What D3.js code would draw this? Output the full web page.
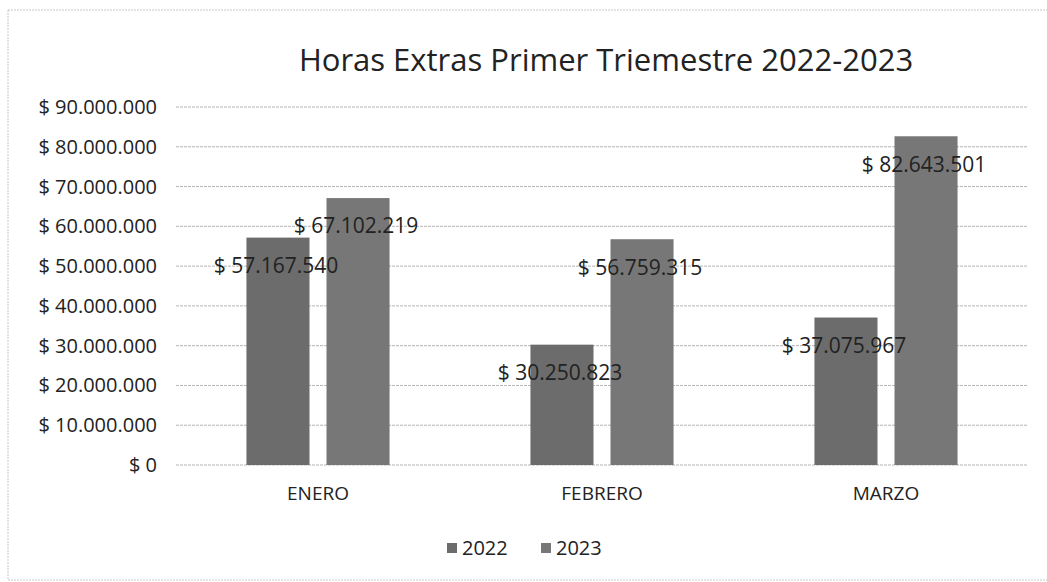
<!DOCTYPE html>
<html>
<head>
<meta charset="utf-8">
<script src="https://cdn.jsdelivr.net/npm/d3@7"></script>
<style>
  body { margin: 0; background: #fff; }
  text { font-family: "Open Sans", "Noto Sans", sans-serif; fill: #222; }
</style>
</head>
<body>
<div id="chart"></div>
<script>
// data
var months = ["ENERO", "FEBRERO", "MARZO"];
var years = ["2022", "2023"];
var values2022 = [57167540, 30250823, 37075967];
var values2023 = [67102219, 56759315, 82643501];
var yTicks = [0, 10000000, 20000000, 30000000, 40000000, 50000000, 60000000, 70000000, 80000000, 90000000];

var width = 1047, height = 582;
var margin = {top: 107, right: 19, bottom: 120, left: 176};

var svg = d3.select("#chart").append("svg")
  .attr("width", width)
  .attr("height", height);

// faint scan border
svg.append("rect")
  .attr("x", 8).attr("y", 10)
  .attr("width", width + 10).attr("height", 570)
  .attr("fill", "none")
  .attr("stroke", "#c8c8c8")
  .attr("stroke-dasharray", "2,1");

var x = d3.scaleBand().domain(months).range([margin.left, width - margin.right]);
var x1 = d3.scaleBand().domain(years).range([0, x.bandwidth()]).paddingInner(0.2125).paddingOuter(0.88);
var y = d3.scaleLinear().domain([0, 90000000]).range([height - margin.bottom + 3, margin.top]);

function money(v) {
  return "$ " + d3.format(",")(v).replace(/,/g, ".");
}

// gridlines
svg.append("g").selectAll("line")
  .data(yTicks)
  .enter().append("line")
  .attr("x1", margin.left).attr("x2", width - margin.right)
  .attr("y1", function(d) { return y(d); })
  .attr("y2", function(d) { return y(d); })
  .attr("stroke", "#b5b5b5")
  .attr("stroke-dasharray", "3,1");

// y axis labels
svg.append("g").selectAll("text")
  .data(yTicks)
  .enter().append("text")
  .attr("x", 157)
  .attr("y", function(d) { return y(d); })
  .attr("dy", "0.35em")
  .attr("text-anchor", "end")
  .style("font-size", "20px")
  .text(money);

var rows = months.map(function(m, i) {
  return {month: m, vals: [{year: "2022", v: values2022[i]}, {year: "2023", v: values2023[i]}]};
});

var colors = {"2022": "#6c6c6c", "2023": "#777777"};

var groups = svg.append("g").selectAll("g")
  .data(rows)
  .enter().append("g")
  .attr("transform", function(d) { return "translate(" + x(d.month) + ",0)"; });

groups.selectAll("rect")
  .data(function(d) { return d.vals; })
  .enter().append("rect")
  .attr("x", function(d) { return x1(d.year); })
  .attr("width", x1.bandwidth())
  .attr("y", function(d) { return y(d.v); })
  .attr("height", function(d) { return y(0) - y(d.v); })
  .attr("fill", function(d) { return colors[d.year]; });

// value labels, sit a bit under the bar top
groups.selectAll("text.val")
  .data(function(d) { return d.vals; })
  .enter().append("text")
  .attr("class", "val")
  .attr("x", function(d) { return x1(d.year) + x1.bandwidth() / 2 - 2; })
  .attr("y", function(d) { return y(d.v) + 28; })
  .attr("dy", "0.35em")
  .attr("text-anchor", "middle")
  .style("font-size", "21px")
  .text(function(d) { return money(d.v); });

// month labels
svg.append("g").selectAll("text")
  .data(months)
  .enter().append("text")
  .attr("x", function(d) { return x(d) + x.bandwidth() / 2; })
  .attr("y", 493)
  .attr("dy", "0.35em")
  .attr("text-anchor", "middle")
  .style("font-size", "19px")
  .text(function(d) { return d; });

// title
svg.append("text")
  .attr("x", 606).attr("y", 60)
  .attr("dy", "0.35em")
  .attr("text-anchor", "middle")
  .style("font-size", "31px")
  .text("Horas Extras Primer Triemestre 2022-2023");

// legend
var legend = svg.append("g").selectAll("g")
  .data(years)
  .enter().append("g")
  .attr("transform", function(d, i) { return "translate(" + (452 + i * 94) + ",548)"; });

legend.append("rect")
  .attr("x", -5).attr("y", -5)
  .attr("width", 10).attr("height", 10)
  .attr("fill", function(d) { return colors[d]; });

legend.append("text")
  .attr("x", 10).attr("y", 0)
  .attr("dy", "0.35em")
  .style("font-size", "20px")
  .text(function(d) { return d; });
</script>
</body>
</html>
